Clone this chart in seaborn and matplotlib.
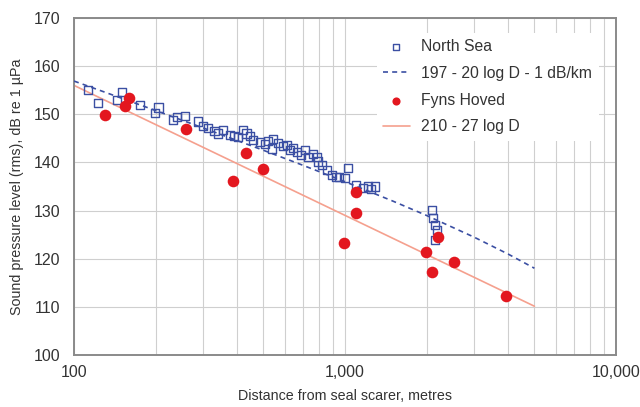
import matplotlib
matplotlib.use("Agg")
import matplotlib.pyplot as plt
import numpy as np
import pandas as pd
import seaborn as sns
from matplotlib.ticker import FixedLocator, FuncFormatter, NullFormatter

# North Sea measurements (distance m, level dB)
NORTH_SEA_D = [113, 123, 144, 150, 175, 199, 205, 232, 240, 257, 287, 300,
               313, 330, 341, 356, 376, 390, 404, 421, 433, 445, 459, 485,
               506, 520, 536, 544, 567, 590, 609, 627, 645, 663, 690, 712,
               730, 760, 786, 795, 820, 856, 893, 930, 950, 1000, 1028, 1100,
               1168, 1219, 1250, 1290, 2089, 2115, 2153, 2180, 2150]
NORTH_SEA_L = [155.0, 152.3, 153.0, 154.6, 152.0, 150.2, 151.4, 148.8, 149.5,
               149.7, 148.5, 147.5, 147.2, 146.5, 146.0, 146.7, 145.7, 145.5,
               145.3, 146.7, 146.0, 145.5, 144.7, 144.3, 143.8, 144.5, 142.9,
               144.9, 144.0, 143.5, 143.6, 142.6, 143.0, 142.2, 141.5, 142.6,
               141.2, 141.8, 141.2, 140.2, 139.5, 138.4, 137.4, 137.0, 137.0,
               136.7, 138.9, 135.2, 134.75, 135.0, 134.5, 135.0, 130.1, 128.4,
               127.0, 126.0, 123.9]

# Fyns Hoved measurements
FYNS_D = [130, 154, 159, 260, 386, 431, 498, 990, 1098, 1098, 1990, 2100,
          2210, 2525, 3930]
FYNS_L = [149.9, 151.8, 153.3, 146.9, 136.1, 142.0, 138.6, 123.2, 133.8,
          129.4, 121.3, 117.2, 124.6, 119.3, 112.3]

# distances for the two fitted curves from the legend equations
FIT_D = [100, 150, 200, 300, 500, 700, 1000, 1500, 2000, 3000, 4000, 5000]

BLUE = "#3b4fa3"
RED = "#e3171f"
PINK = "#f5a08e"
TEXT = "#333333"

sns.set_theme(style="white")
plt.rcParams["font.family"] = ["Liberation Sans", "DejaVu Sans"]

fit_d = np.array(FIT_D, dtype=float)
fit = pd.DataFrame({
    "D": fit_d,
    "north": 197 - 20 * np.log10(fit_d) - fit_d / 1000.0,
    "fyns": 210 - 27 * np.log10(fit_d),
})
north = pd.DataFrame({"D": NORTH_SEA_D, "L": NORTH_SEA_L})
fyns = pd.DataFrame({"D": FYNS_D, "L": FYNS_L})

fig = plt.figure(figsize=(6.4, 4.07), dpi=100)
ax = fig.add_axes([0.1156, 0.1278, 0.8469, 0.828])

sns.lineplot(data=fit, x="D", y="fyns", ax=ax, color=PINK, lw=1.2,
             label="210 - 27 log D", zorder=2)
sns.lineplot(data=fit, x="D", y="north", ax=ax, color=BLUE, lw=1.2,
             label="197 - 20 log D - 1 dB/km", zorder=3)
ax.lines[-1].set_linestyle((0, (3, 2.5)))
sns.scatterplot(data=north, x="D", y="L", ax=ax, marker="s", s=34,
                facecolor="none", edgecolor=BLUE, linewidth=1.0,
                label="North Sea", zorder=4)
sns.scatterplot(data=fyns, x="D", y="L", ax=ax, marker="o", s=70,
                color=RED, edgecolor=RED, linewidth=0,
                label="Fyns Hoved", zorder=5)

ax.set_xscale("log")
ax.set_xlim(100, 10000)
ax.set_ylim(100, 170)

ax.xaxis.set_major_locator(FixedLocator([100, 1000, 10000]))
ax.xaxis.set_major_formatter(FuncFormatter(lambda v, p: f"{int(v):,}"))
minor = [m * d for d in (100, 1000) for m in range(2, 10)]
ax.xaxis.set_minor_locator(FixedLocator(minor))
ax.xaxis.set_minor_formatter(NullFormatter())
ax.set_yticks(range(100, 171, 10))

ax.grid(True, which="both", axis="x", color="#cfcfcf", lw=0.8)
ax.grid(True, which="major", axis="y", color="#cfcfcf", lw=0.8)
ax.set_axisbelow(True)

for side in ax.spines.values():
    side.set_color("#8a8a8a")
    side.set_linewidth(1.4)

ax.tick_params(axis="both", which="both", direction="in", colors="#555555",
               labelcolor=TEXT, labelsize=11.5, length=3, width=0.8)
ax.tick_params(axis="x", which="major", pad=7)
ax.tick_params(axis="y", pad=10)

ax.set_xlabel("Distance from seal scarer, metres", fontsize=10.3,
              color=TEXT, labelpad=7)
ax.set_ylabel("Sound pressure level (rms), dB re 1 \u00b5Pa", fontsize=10.3,
              color=TEXT, labelpad=7)

handles, labels = ax.get_legend_handles_labels()
order = ["North Sea", "197 - 20 log D - 1 dB/km", "Fyns Hoved", "210 - 27 log D"]
hmap = dict(zip(labels, handles))
leg = ax.legend([hmap[k] for k in order], order, loc="upper left",
                bbox_to_anchor=(0.5585, 0.956), fontsize=11.3, frameon=True,
                facecolor="white", edgecolor="none", framealpha=1,
                handlelength=1.7, handletextpad=0.75, labelspacing=0.75,
                borderaxespad=0, borderpad=0.4, markerscale=0.7)
for t in leg.get_texts():
    t.set_color(TEXT)

fig.savefig("out.png", dpi=100)
